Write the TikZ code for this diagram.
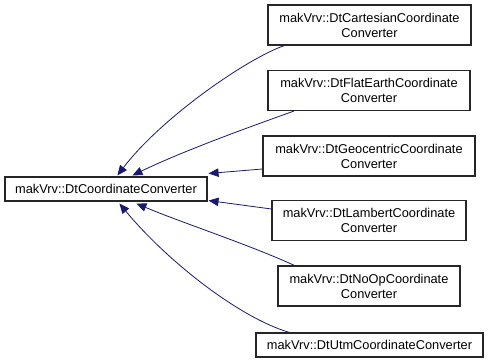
\documentclass[tikz,border=0pt]{standalone}
\usepackage{fontspec}
\setmainfont{Liberation Sans}
\usetikzlibrary{arrows.meta,calc}
\definecolor{edgeblue}{RGB}{25,25,112}
\begin{document}
\begin{tikzpicture}[x=1pt,y=-1pt,
  cls/.style={draw=black!85,line width=1.1pt,fill=white,inner sep=0pt,align=center,
    font=\fontsize{12.8}{15}\selectfont},
  edge/.style={draw=edgeblue,line width=0.8pt,-{Triangle[length=10pt,width=8.5pt]}}]
\useasboundingbox[fill=white] (0,0) rectangle (488,364);
\node[cls,minimum width=202pt,minimum height=24pt] (base) at (106,189) {makVrv::DtCoordinateConverter};
\node[cls,minimum width=203pt,minimum height=40pt] (cart) at (369.5,25) {makVrv::DtCartesianCoordinate\\Converter};
\node[cls,minimum width=202pt,minimum height=40pt] (flat) at (369,90.5) {makVrv::DtFlatEarthCoordinate\\Converter};
\node[cls,minimum width=212pt,minimum height=40pt] (geo) at (369,156) {makVrv::DtGeocentricCoordinate\\Converter};
\node[cls,minimum width=194pt,minimum height=40pt] (lamb) at (369,220.5) {makVrv::DtLambertCoordinate\\Converter};
\node[cls,minimum width=182pt,minimum height=40pt] (noop) at (369,286) {makVrv::DtNoOpCoordinate\\Converter};
\node[cls,minimum width=227pt,minimum height=24pt] (utm) at (369.5,345) {makVrv::DtUtmCoordinateConverter};
% edges
\draw[edge] ($(cart.south west)+(17,0)$) .. controls (248,58) and (162,117) .. ($(base.north west)+(113,-1)$);
\draw[edge] ($(flat.south west)+(26.5,0)$) .. controls (255,125) and (185,150) .. ($(base.north west)+(128,-1)$);
\draw[edge] ($(geo.west)+(0,13)$) -- ($(base.north east)+(1,-3)$);
\draw[edge] ($(lamb.west)+(0,-11.5)$) -- ($(base.south east)+(1,-1)$);
\draw[edge] ($(noop.north west)+(17,0)$) .. controls (250,245) and (180,222) .. ($(base.south west)+(132,2)$);
\draw[edge] ($(utm.north west)+(34,0)$) .. controls (240,318) and (168,262) .. ($(base.south west)+(115,2)$);
\end{tikzpicture}
\end{document}
